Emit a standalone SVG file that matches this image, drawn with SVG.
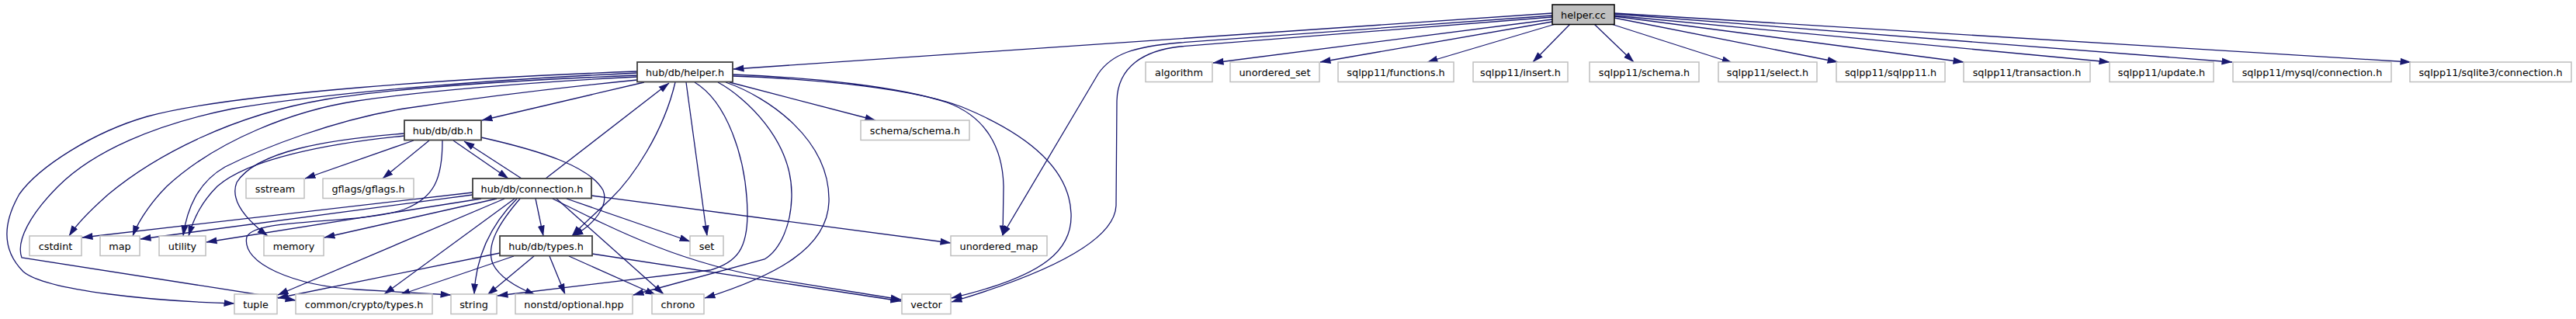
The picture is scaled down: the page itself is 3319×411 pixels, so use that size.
<svg xmlns="http://www.w3.org/2000/svg" width="3319" height="411" viewBox="0 0 3319 411">
<style>
rect{fill:#fff;stroke:#bfbfbf;stroke-width:1.5}
.d rect{stroke:#404040;stroke-width:1.8}
.r rect{fill:#bfbfbf;stroke:#000;stroke-width:1.5}
text{font-family:"DejaVu Sans",sans-serif;font-size:12.8px;text-anchor:middle;fill:#000}
#edges path{fill:none;stroke:#191970;stroke-width:1.3;marker-end:url(#a)}
</style>
<defs><marker id="a" markerUnits="userSpaceOnUse" markerWidth="14" markerHeight="10" viewBox="0 0 14 10" refX="13.5" refY="5" orient="auto"><path d="M0,0.5L14,5L0,9.5z" fill="#191970" stroke="none"/></marker></defs>
<rect x="0" y="0" width="3319" height="411" style="fill:#fff;stroke:none"/>
<g id="edges">
<path d="M2000,17 L945,89"/>
<path d="M2000,25 L1563,81"/>
<path d="M2000,28 L1701,80"/>
<path d="M2004,31 L1839,80"/>
<path d="M2023,31 L1975,80"/>
<path d="M2054,31 L2105,80"/>
<path d="M2076,31 L2232,81"/>
<path d="M2080,23 L2368,80"/>
<path d="M2080,21 L2530,80"/>
<path d="M2080,20 L2718,80"/>
<path d="M2080,18 L2876,80"/>
<path d="M2080,17 L3106,80"/>
<path d="M2000,20 L1520,55 C1460,60 1432,70 1415,95 L1291,304"/>
<path d="M2000,22 L1520,60 C1475,65 1440,85 1439,130 L1438,265 C1436,310 1350,352 1226,389"/>
<path d="M830,106 L621,155"/>
<path d="M940,106 L1128,155"/>
<path d="M821,97 C650,104 500,115 420,128 C300,148 200,200 140,250 C115,272 98,290 89,304"/>
<path d="M821,99 C680,106 540,118 460,130 C380,142 280,180 215,240 C200,255 180,280 171,304"/>
<path d="M821,103 C700,115 600,128 520,140 C430,155 340,190 290,215 C260,232 242,260 236,304"/>
<path d="M821,92 C600,100 300,120 190,150 C120,170 50,215 25,250 C5,285 0,320 30,350 C60,375 200,388 302,391"/>
<path d="M821,94 C620,103 420,120 300,140 C200,160 120,195 75,240 C40,275 20,310 28,332 L381,387"/>
<path d="M870,106 C855,170 815,230 785,258 C765,277 748,292 737,304"/>
<path d="M884,106 L911,304"/>
<path d="M895,106 C935,130 962,200 963,275 C963,320 950,338 915,348 L641,381"/>
<path d="M925,106 C960,125 1020,180 1020,250 C1020,290 1005,322 985,334 L816,380"/>
<path d="M935,106 C990,125 1070,180 1068,260 C1066,320 1000,355 908,384"/>
<path d="M944,96 C1050,100 1160,112 1220,132 C1270,150 1292,190 1293,240 L1292,304"/>
<path d="M944,98 C1060,102 1180,115 1240,138 C1330,175 1378,220 1380,275 C1382,320 1350,355 1226,384"/>
<path d="M584,181 L655,230"/>
<path d="M533,181 L393,230"/>
<path d="M553,181 L493,230"/>
<path d="M521,172 C420,180 330,195 305,235 C295,260 320,285 345,304"/>
<path d="M521,175 C420,185 320,205 280,240 C260,260 250,280 243,304"/>
<path d="M570,181 C570,230 560,255 520,270 C460,290 330,280 318,305 C310,340 380,368 460,373 L581,380"/>
<path d="M620,177 C700,195 760,215 777,245 C785,265 765,290 738,304"/>
<path d="M672,230 L598,182"/>
<path d="M703,230 L862,107"/>
<path d="M609,248 L106,306"/>
<path d="M609,251 L181,308"/>
<path d="M620,256 L266,312"/>
<path d="M640,256 L418,306"/>
<path d="M650,256 L358,380"/>
<path d="M663,256 L495,379"/>
<path d="M666,256 C632,290 613,330 611,379"/>
<path d="M670,256 C645,285 625,315 635,340 C645,360 670,372 690,380"/>
<path d="M690,256 L700,304"/>
<path d="M717,256 L855,379"/>
<path d="M730,256 L889,311"/>
<path d="M762,252 L1225,313"/>
<path d="M712,256 C800,300 880,340 1000,360 L1161,386"/>
<path d="M644,326 L358,384"/>
<path d="M662,330 L515,380"/>
<path d="M688,330 L628,380"/>
<path d="M708,330 L728,379"/>
<path d="M733,330 L845,380"/>
<path d="M763,327 L1161,388"/>
</g>
<g id="n_helper_cc" class="r"><rect x="2000" y="6" width="80" height="25.5"/><text x="2040" y="23.5">helper.cc</text></g>
<g id="n_helper_h" class="d"><rect x="821" y="80" width="123" height="25.5"/><text x="882.5" y="97.5">hub/db/helper.h</text></g>
<g id="n_algorithm"><rect x="1476" y="80" width="86" height="25.5"/><text x="1519" y="97.5">algorithm</text></g>
<g id="n_unordered_set"><rect x="1585" y="80" width="115" height="25.5"/><text x="1642.5" y="97.5">unordered_set</text></g>
<g id="n_functions"><rect x="1724" y="80" width="149" height="25.5"/><text x="1798.5" y="97.5">sqlpp11/functions.h</text></g>
<g id="n_insert"><rect x="1898" y="80" width="122" height="25.5"/><text x="1959" y="97.5">sqlpp11/insert.h</text></g>
<g id="n_sqlschema"><rect x="2048" y="80" width="141" height="25.5"/><text x="2118.5" y="97.5">sqlpp11/schema.h</text></g>
<g id="n_select"><rect x="2214" y="80" width="127" height="25.5"/><text x="2277.5" y="97.5">sqlpp11/select.h</text></g>
<g id="n_sqlpp11"><rect x="2366" y="80" width="140" height="25.5"/><text x="2436" y="97.5">sqlpp11/sqlpp11.h</text></g>
<g id="n_transaction"><rect x="2530" y="80" width="163" height="25.5"/><text x="2611.5" y="97.5">sqlpp11/transaction.h</text></g>
<g id="n_update"><rect x="2718" y="80" width="134" height="25.5"/><text x="2785" y="97.5">sqlpp11/update.h</text></g>
<g id="n_mysql"><rect x="2877" y="80" width="204" height="25.5"/><text x="2979" y="97.5">sqlpp11/mysql/connection.h</text></g>
<g id="n_sqlite3"><rect x="3105" y="80" width="208" height="25.5"/><text x="3209" y="97.5">sqlpp11/sqlite3/connection.h</text></g>
<g id="n_schema"><rect x="1109" y="155" width="140" height="25.5"/><text x="1179" y="172.5">schema/schema.h</text></g>
<g id="n_db" class="d"><rect x="521" y="155" width="99" height="25.5"/><text x="570.5" y="172.5">hub/db/db.h</text></g>
<g id="n_sstream"><rect x="317" y="230" width="75" height="25.5"/><text x="354.5" y="247.5">sstream</text></g>
<g id="n_gflags"><rect x="416" y="230" width="117" height="25.5"/><text x="474.5" y="247.5">gflags/gflags.h</text></g>
<g id="n_connection" class="d"><rect x="609" y="230" width="153" height="25.5"/><text x="685.5" y="247.5">hub/db/connection.h</text></g>
<g id="n_cstdint"><rect x="38" y="304" width="67" height="25.5"/><text x="71.5" y="321.5">cstdint</text></g>
<g id="n_map"><rect x="129" y="304" width="51" height="25.5"/><text x="154.5" y="321.5">map</text></g>
<g id="n_utility"><rect x="205" y="304" width="60" height="25.5"/><text x="235" y="321.5">utility</text></g>
<g id="n_memory"><rect x="340" y="304" width="77" height="25.5"/><text x="378.5" y="321.5">memory</text></g>
<g id="n_types" class="d"><rect x="644" y="304" width="119" height="25.5"/><text x="703.5" y="321.5">hub/db/types.h</text></g>
<g id="n_set"><rect x="889" y="304" width="43" height="25.5"/><text x="910.5" y="321.5">set</text></g>
<g id="n_unordered_map"><rect x="1225" y="304" width="124" height="25.5"/><text x="1287" y="321.5">unordered_map</text></g>
<g id="n_tuple"><rect x="302" y="379" width="55" height="25.5"/><text x="329.5" y="396.5">tuple</text></g>
<g id="n_crypto"><rect x="381" y="379" width="176" height="25.5"/><text x="469" y="396.5">common/crypto/types.h</text></g>
<g id="n_string"><rect x="581" y="379" width="59" height="25.5"/><text x="610.5" y="396.5">string</text></g>
<g id="n_optional"><rect x="664" y="379" width="151" height="25.5"/><text x="739.5" y="396.5">nonstd/optional.hpp</text></g>
<g id="n_chrono"><rect x="840" y="379" width="67" height="25.5"/><text x="873.5" y="396.5">chrono</text></g>
<g id="n_vector"><rect x="1162" y="379" width="63" height="25.5"/><text x="1193.5" y="396.5">vector</text></g>
</svg>
